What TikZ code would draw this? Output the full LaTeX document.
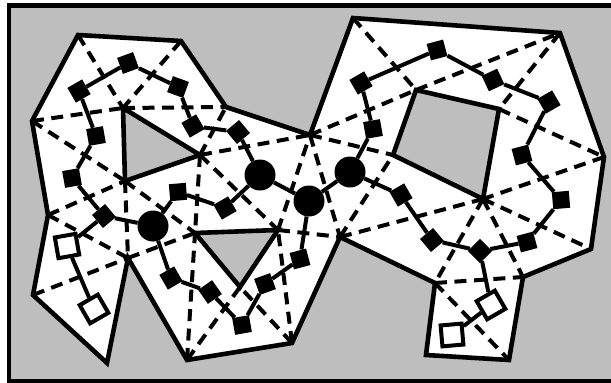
\documentclass[tikz,border=0pt]{standalone}
\begin{document}
\begin{tikzpicture}[x=1pt,y=-1pt,
  bgshade/.style={fill={rgb,255:red,190;green,190;blue,190}},
  boundary/.style={line width=4.6pt,line join=miter},
  diag/.style={line width=4pt,dash pattern=on 12pt off 7.5pt},
  tree/.style={line width=4pt},
  fsq/.style={rectangle,fill=black,minimum size=17pt,inner sep=0pt},
  osq/.style={rectangle,draw=black,line width=4pt,fill=white,minimum size=21pt,inner sep=0pt},
  bigc/.style={circle,fill=black,minimum size=31pt,inner sep=0pt}]
\useasboundingbox (0,0) rectangle (611,383);
\clip (0,0) rectangle (611,383);
\fill[white] (0,0) rectangle (611,383);
\fill[bgshade] (8.7,5.5) rectangle (611,381);
\draw[line width=4.4pt] (611,5.5) -- (8.7,5.5) -- (8.7,381) -- (611,381);
% polygon vertices
\coordinate (P1) at (78,35);
\coordinate (P2) at (181,41);
\coordinate (P3) at (226,107);
\coordinate (P4) at (310,135);
\coordinate (P5) at (353,18);
\coordinate (P6) at (560,33);
\coordinate (P7) at (604,157);
\coordinate (P8) at (591,249);
\coordinate (P9) at (523,277);
\coordinate (P10) at (509,360);
\coordinate (P11) at (426,355);
\coordinate (P12) at (435,283);
\coordinate (P13) at (340,237);
\coordinate (P14) at (292,343);
\coordinate (P15) at (187,360);
\coordinate (P16) at (128,258);
\coordinate (P17) at (107,363);
\coordinate (P18) at (33,295);
\coordinate (P19) at (48,215);
\coordinate (P20) at (32,121);
% holes
\coordinate (Ta) at (123,108);
\coordinate (Tb) at (200,155);
\coordinate (Tc) at (125,181);
\coordinate (Ua) at (195,233);
\coordinate (Ub) at (278,230);
\coordinate (Uc) at (240,287);
\coordinate (Qa) at (416,90);
\coordinate (Qb) at (499,109);
\coordinate (Qc) at (483,199);
\coordinate (Qd) at (393,155);
% white region
\fill[white,even odd rule] (P1)--(P2)--(P3)--(P4)--(P5)--(P6)--(P7)--(P8)--(P9)--(P10)--(P11)--(P12)--(P13)--(P14)--(P15)--(P16)--(P17)--(P18)--(P19)--(P20)--cycle
  (Ta)--(Tb)--(Tc)--cycle (Ua)--(Ub)--(Uc)--cycle (Qa)--(Qb)--(Qc)--(Qd)--cycle;
% diagonals
\foreach \a/\b in {P20/Ta,Ta/P3,P1/Ta,P2/Ta,P20/Tc,Tb/P4,Tb/P3,Tb/Ua,Tb/Ub,Tc/P16,Tc/Ua,P19/Tc,P19/P16,P18/P16,P16/Ua,P15/Ua,P15/Uc,P14/Uc,P14/Ub,Ub/P13,Ub/P4,P4/P13,P13/Qd,P4/Qd,P4/Qa,Qa/P6,P5/Qa,P6/Qb,Qb/P7,P7/Qc,Qc/P8,Qc/P9,Qc/P12,P12/P9,P12/P10,P13/Qc}
  \draw[diag] (\a) -- (\b);
% boundary
\draw[boundary] (P1)--(P2)--(P3)--(P4)--(P5)--(P6)--(P7)--(P8)--(P9)--(P10)--(P11)--(P12)--(P13)--(P14)--(P15)--(P16)--(P17)--(P18)--(P19)--(P20)--cycle;
\draw[boundary,bgshade] (Ta)--(Tb)--(Tc)--cycle;
\draw[boundary,bgshade] (Ua)--(Ub)--(Uc)--cycle;
\draw[boundary,bgshade] (Qa)--(Qb)--(Qc)--(Qd)--cycle;
% tree nodes
\node[fsq,rotate=20] (n1) at (128,63) {};
\node[fsq,rotate=30] (n2) at (79,91) {};
\node[fsq,rotate=-20] (n3) at (178,87) {};
\node[fsq,rotate=10] (n4) at (96,136) {};
\node[fsq,rotate=30] (n5) at (193,126) {};
\node[fsq,rotate=40] (n6) at (238,132) {};
\node[fsq,rotate=10] (n7) at (72,178) {};
\node[fsq,rotate=5] (n8) at (178,192) {};
\node[fsq,rotate=40] (n9) at (104,216) {};
\node[fsq,rotate=30] (n10) at (225,208) {};
\node[fsq,rotate=30] (n11) at (171,278) {};
\node[fsq,rotate=35] (n12) at (210,292) {};
\node[fsq,rotate=10] (n13) at (242,325) {};
\node[fsq,rotate=20] (n14) at (265,284) {};
\node[fsq,rotate=15] (n15) at (300,259) {};
\node[fsq,rotate=30] (n16) at (361,83) {};
\node[fsq,rotate=15] (n17) at (437,50) {};
\node[fsq,rotate=25] (n18) at (493,80) {};
\node[fsq,rotate=30] (n19) at (549,102) {};
\node[fsq,rotate=10] (n20) at (373,129) {};
\node[fsq,rotate=15] (n21) at (522,155) {};
\node[fsq,rotate=30] (n22) at (401,195) {};
\node[fsq,rotate=5] (n23) at (561,200) {};
\node[fsq,rotate=40] (n24) at (432,240) {};
\node[fsq,rotate=45] (n25) at (480,251) {};
\node[fsq,rotate=15] (n26) at (527,242) {};
\node[bigc] (c1) at (260,175) {};
\node[bigc] (c2) at (153,226) {};
\node[bigc] (c3) at (309,201) {};
\node[bigc] (c4) at (350,172) {};
\node[osq,rotate=10] (o1) at (67,246) {};
\node[osq,rotate=30] (o2) at (94,309) {};
\node[osq,rotate=30] (o3) at (491,305) {};
\node[osq,rotate=5] (o4) at (452,335) {};
% tree edges
\foreach \a/\b in {o2/o1,o1/n9,n9/n7,n7/n4,n4/n2,n2/n1,n1/n3,n3/n5,n5/n6,n6/c1,n9/c2,c2/n8,n8/n10,n10/c1,c2/n11,n11/n12,n12/n13,n13/n14,n14/n15,n15/c3,c1/c3,c3/c4,c4/n20,n20/n16,n16/n17,n17/n18,n18/n19,n19/n21,n21/n23,n23/n26,n26/n25,n25/n24,n24/n22,n22/c4,n25/o3,o3/o4}
  \draw[tree] (\a) -- (\b);
\end{tikzpicture}
\end{document}
